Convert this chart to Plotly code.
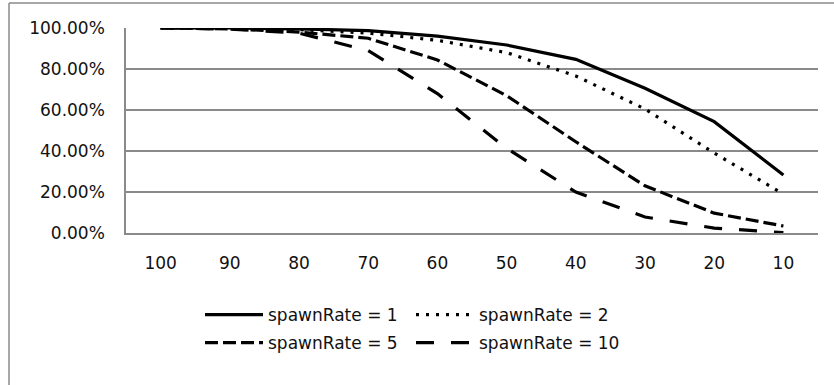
import plotly.graph_objects as go

categories = ["100", "90", "80", "70", "60", "50", "40", "30", "20", "10"]
spawn_1 = [1.000, 1.000, 0.996, 0.987, 0.960, 0.917, 0.847, 0.706, 0.543, 0.283]
spawn_2 = [1.000, 0.998, 0.992, 0.975, 0.940, 0.880, 0.766, 0.605, 0.390, 0.190]
spawn_5 = [1.000, 0.996, 0.980, 0.950, 0.844, 0.670, 0.445, 0.230, 0.097, 0.034]
spawn_10 = [1.000, 0.995, 0.975, 0.890, 0.680, 0.413, 0.200, 0.078, 0.024, 0.002]
series_names = ["spawnRate = 1", "spawnRate = 2", "spawnRate = 5", "spawnRate = 10"]
y_ticks = [0, 0.2, 0.4, 0.6, 0.8, 1.0]

FONT = "DejaVu Sans"
W, H = 834, 385
L, R, T, B = 126, 16, 28, 152

series = [spawn_1, spawn_2, spawn_5, spawn_10]
dashes = ["solid", "3px,7px", "13px,5px", "18px,17px"]
legends = ["legend", "legend", "legend2", "legend2"]

fig = go.Figure()
for vals, name, dash, lg in zip(series, series_names, dashes, legends):
    fig.add_trace(go.Scatter(
        x=categories, y=vals, name=name, mode="lines",
        line=dict(color="black", width=3.2, dash=dash),
        legend=lg,
    ))

pw = W - L - R
ph = H - T - B

def px_to_paper_x(px):
    return (px - L) / pw

def px_to_paper_y(py):
    return (H - B - py) / ph

legend_common = dict(
    orientation="h", x=px_to_paper_x(200), xanchor="left", yanchor="middle",
    entrywidth=138, itemwidth=58,
    font=dict(family=FONT, size=17, color="#111111"),
    bgcolor="rgba(0,0,0,0)", tracegroupgap=0,
)

fig.update_layout(
    width=W, height=H,
    margin=dict(l=L, r=R, t=T, b=B, pad=0),
    paper_bgcolor="white", plot_bgcolor="white",
    font=dict(family=FONT, size=17, color="#111111"),
    showlegend=True,
    xaxis=dict(
        type="category", range=[-0.5, len(categories) - 0.5],
        showgrid=False, showline=True, linecolor="#8a8a8a",
        linewidth=1.5, ticks="", ticklabelstandoff=14, zeroline=False,
        tickfont=dict(family=FONT, size=17, color="#111111"),
    ),
    yaxis=dict(
        range=[0, 1], tickvals=y_ticks, tickformat=".2%", showgrid=True,
        gridcolor="#8a8a8a", gridwidth=1.5, showline=True, linecolor="#8a8a8a",
        linewidth=1.5, ticks="", ticklabelstandoff=16, zeroline=False,
        tickfont=dict(family=FONT, size=17, color="#111111"),
    ),
    legend=dict(legend_common, y=px_to_paper_y(315)),
    legend2=dict(legend_common, y=px_to_paper_y(343)),
    shapes=[
        dict(type="line", xref="paper", yref="paper",
             x0=px_to_paper_x(9), x1=px_to_paper_x(900),
             y0=px_to_paper_y(3), y1=px_to_paper_y(3),
             line=dict(color="#8a8a8a", width=1.5), layer="below"),
        dict(type="line", xref="paper", yref="paper",
             x0=px_to_paper_x(9), x1=px_to_paper_x(9),
             y0=px_to_paper_y(3), y1=px_to_paper_y(450),
             line=dict(color="#8a8a8a", width=1.5), layer="below"),
    ],
)

fig.write_html("out.html")
